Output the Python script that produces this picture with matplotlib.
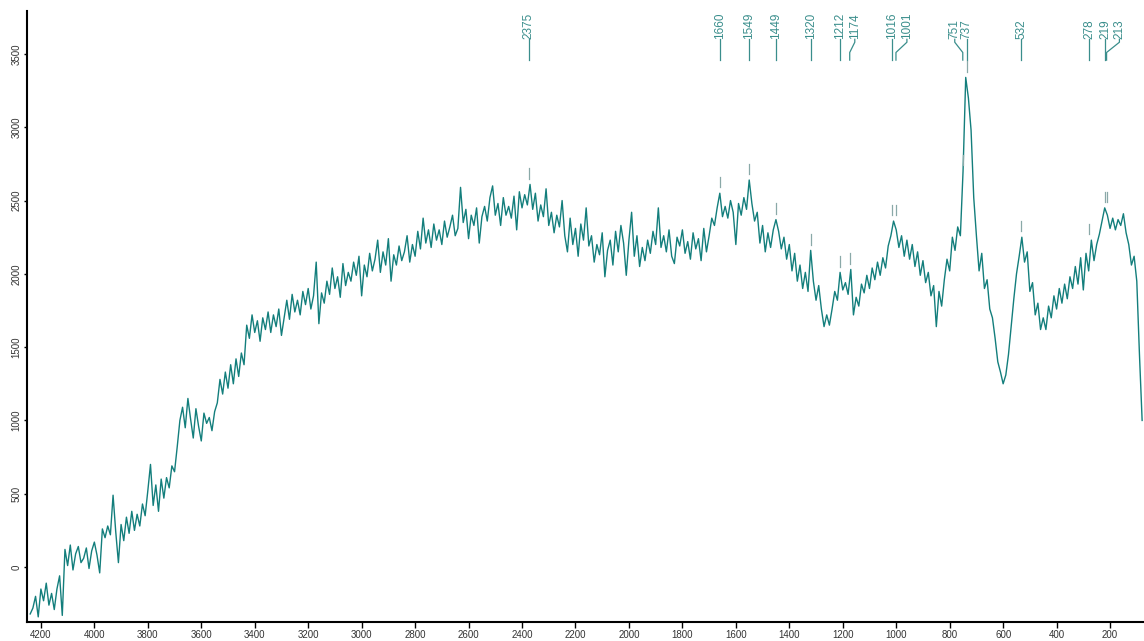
import numpy as np
import matplotlib
matplotlib.use("Agg")
import matplotlib.pyplot as plt

plt.rcParams['font.family'] = ['Liberation Sans', 'DejaVu Sans']

# spectrum, one value every 10 cm-1 starting at 4240 cm-1
intensity = [
    -320, -280, -200, -340, -150, -230, -110, -260, -180, -290,
    -150, -60, -330, 120, 10, 150, -20, 90, 140, 30,
    60, 130, -10, 110, 170, 80, -40, 260, 200, 280,
    220, 490, 240, 30, 290, 180, 340, 230, 380, 250,
    360, 280, 430, 350, 520, 700, 420, 560, 380, 600,
    470, 610, 540, 690, 650, 820, 1000, 1090, 950, 1150,
    1010, 880, 1080, 960, 860, 1050, 980, 1020, 930, 1060,
    1120, 1280, 1180, 1330, 1220, 1380, 1250, 1420, 1300, 1460,
    1380, 1650, 1560, 1720, 1600, 1680, 1540, 1700, 1620, 1740,
    1600, 1720, 1640, 1760, 1580, 1700, 1820, 1690, 1860, 1740,
    1820, 1720, 1880, 1790, 1900, 1760, 1850, 2080, 1660, 1870,
    1800, 1950, 1860, 2040, 1900, 1980, 1840, 2070, 1920, 2010,
    1950, 2080, 1990, 2120, 1850, 2060, 1980, 2140, 2020, 2100,
    2230, 2010, 2150, 2060, 2240, 1950, 2130, 2060, 2190, 2090,
    2150, 2260, 2080, 2200, 2120, 2290, 2170, 2380, 2210, 2300,
    2180, 2340, 2230, 2300, 2200, 2360, 2250, 2320, 2400, 2260,
    2310, 2590, 2350, 2440, 2240, 2400, 2330, 2450, 2210, 2390,
    2460, 2360, 2520, 2600, 2400, 2480, 2330, 2520, 2400, 2460,
    2380, 2530, 2300, 2560, 2450, 2540, 2470, 2610, 2440, 2550,
    2360, 2470, 2390, 2580, 2330, 2420, 2280, 2400, 2320, 2500,
    2260, 2150, 2380, 2200, 2310, 2120, 2340, 2230, 2450, 2190,
    2260, 2080, 2200, 2130, 2280, 1980, 2160, 2230, 2060, 2290,
    2150, 2330, 2210, 1990, 2230, 2420, 2120, 2260, 2050, 2180,
    2090, 2230, 2140, 2290, 2200, 2450, 2180, 2260, 2150, 2300,
    2120, 2070, 2250, 2190, 2300, 2140, 2220, 2100, 2280, 2170,
    2240, 2090, 2310, 2150, 2260, 2380, 2330, 2450, 2550, 2390,
    2460, 2380, 2500, 2420, 2200, 2480, 2400, 2520, 2440, 2640,
    2480, 2360, 2420, 2210, 2330, 2150, 2280, 2180, 2300, 2370,
    2290, 2170, 2250, 2100, 2200, 2020, 2140, 1950, 2060, 1900,
    2010, 1880, 2160, 1950, 1820, 1920, 1760, 1640, 1720, 1650,
    1760, 1880, 1820, 2010, 1890, 1940, 1860, 2030, 1720, 1840,
    1780, 1930, 1870, 1990, 1900, 2040, 1960, 2080, 1990, 2110,
    2040, 2190, 2260, 2360, 2300, 2180, 2260, 2120, 2230, 2100,
    2200, 2050, 2150, 1990, 2090, 1940, 2010, 1850, 1920, 1640,
    1880, 1780, 1960, 2100, 2020, 2250, 2160, 2320, 2260, 2700,
    3340, 3200, 2980, 2520, 2260, 2020, 2140, 1900, 1960, 1760,
    1700, 1560, 1400, 1330, 1250, 1310, 1450, 1640, 1830, 2000,
    2120, 2250, 2080, 2150, 1880, 1940, 1720, 1800, 1620, 1700,
    1620, 1780, 1700, 1850, 1760, 1900, 1800, 1930, 1830, 1980,
    1900, 2050, 1930, 2110, 1890, 2140, 2020, 2230, 2090, 2200,
    2270, 2360, 2450, 2400, 2310, 2380, 2300, 2370, 2330, 2410,
    2280, 2200, 2060, 2120, 1950, 1450, 1000,
]
wavenumber = 4240 - 10 * np.arange(len(intensity))
intensity = np.array(intensity, dtype=float)

peaks = [2375, 1660, 1549, 1449, 1320, 1212, 1174, 1016, 1001,
         751, 737, 532, 278, 219, 213]
# sideways shift of crowded labels (cm-1)
label_shift = {1174: -19, 1001: -41, 751: 30, 213: -48}

line_color = '#137e7c'
label_color = '#3a8e8c'

fig = plt.figure(figsize=(11.44, 6.41), dpi=100)
ax = fig.add_axes([27 / 1144, 1 - 622 / 641, 1 - 27 / 1144, (622 - 11) / 641])

ax.plot(wavenumber, intensity, color=line_color, lw=1.0)

ax.set_xlim(4252, 73)
ax.set_ylim(-375, 3793)

# peak labels along the top
for p in peaks:
    tx = p + label_shift.get(p, 0)
    if tx != p:
        ax.plot([p, p, tx, tx], [3458, 3510, 3580, 3600], color=label_color, lw=0.9)
    else:
        ax.plot([p, p], [3458, 3600], color=label_color, lw=0.9)
    ax.text(tx, 3605, str(p), rotation=90, ha='center', va='bottom',
            fontsize=8.5, color=label_color)
    near = np.abs(wavenumber - p) <= 10
    top = intensity[near].max()
    ax.plot([p, p], [top + 40, top + 110], color='#8aa9a8', lw=0.9)

ax.spines['top'].set_visible(False)
ax.spines['right'].set_visible(False)
ax.spines['left'].set_linewidth(1.5)
ax.spines['bottom'].set_linewidth(1.5)

ax.set_xticks(np.arange(4200, 199, -200))
ax.set_yticks(np.arange(0, 3501, 500))
ax.tick_params(axis='x', length=4, width=1, pad=2, labelsize=7, labelcolor='#333333')
ax.tick_params(axis='y', length=2, width=1, pad=2, labelsize=7, labelcolor='#333333')
for lbl in ax.get_yticklabels():
    lbl.set_rotation(90)
    lbl.set_va('center')

fig.savefig('out.png', dpi=100)
